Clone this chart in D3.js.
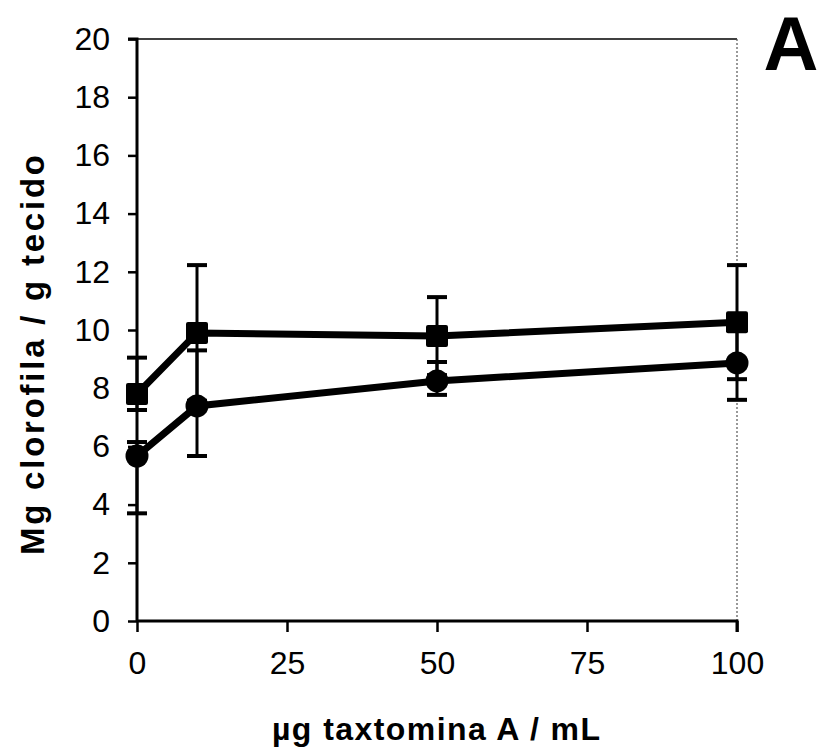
<!DOCTYPE html>
<html>
<head>
<meta charset="utf-8">
<script src="https://cdn.jsdelivr.net/npm/d3@7"></script>
<style>
  body { margin: 0; background: #fff; }
  svg text { font-family: "Liberation Sans", Arial, sans-serif; fill: #000; }
</style>
</head>
<body>
<svg id="chart" width="821" height="751"></svg>
<script>
//
// D A T A
//
var doses      = [0, 10, 50, 100];
var quadrados  = [7.8, 9.9, 9.79, 10.27];
var quadHi     = [9.05, 12.23, 11.13, 12.23];
var quadLo     = [7.25, 7.57, 8.45, 8.31];
var circulos   = [5.67, 7.39, 8.25, 8.87];
var circHi     = [6.15, 9.3, 8.9, 10.14];
var circLo     = [3.7, 5.67, 7.77, 7.6];
var xTicks     = [0, 25, 50, 75, 100];
var yTicks     = [0, 2, 4, 6, 8, 10, 12, 14, 16, 18, 20];

//
// S C A L E S
//
var svg = d3.select('#chart');
var x = d3.scaleLinear().domain([0, 100]).range([137, 737]);
var y = d3.scaleLinear().domain([0, 20]).range([621, 39]);

// plot area border (top and right)
svg.append('line')
  .attr('x1', x(0)).attr('x2', x(100))
  .attr('y1', y(20)).attr('y2', y(20))
  .attr('stroke', '#000').attr('stroke-width', 1.5);
svg.append('line')
  .attr('x1', x(100)).attr('x2', x(100))
  .attr('y1', y(20)).attr('y2', y(0))
  .attr('stroke', '#555').attr('stroke-width', 1.2)
  .attr('stroke-dasharray', '2,2');

//
// A X E S
//
var yAxis = svg.append('g')
  .attr('transform', 'translate(' + x(0) + ',0)')
  .call(d3.axisLeft(y).tickValues(yTicks).tickSize(9).tickPadding(18));
var xAxis = svg.append('g')
  .attr('transform', 'translate(0,' + y(0) + ')')
  .call(d3.axisBottom(x).tickValues(xTicks).tickSize(11).tickPadding(19));

[yAxis, xAxis].forEach(function(ax){
  ax.select('.domain').attr('stroke', '#000').attr('stroke-width', 3);
  ax.selectAll('.tick line').attr('stroke', '#000').attr('stroke-width', 2.5);
  ax.selectAll('.tick text')
    .style('font-family', '"Liberation Sans", Arial, sans-serif')
    .style('font-size', '32px');
});
yAxis.select('.domain').attr('d', 'M0,' + y(0) + 'V' + y(20) + 'h-9');
xAxis.select('.domain').attr('d', 'M' + x(0) + ',0H' + x(100) + 'v11');

// axis titles
svg.append('text')
  .attr('transform', 'translate(44,355) rotate(-90)')
  .attr('text-anchor', 'middle')
  .attr('textLength', 400).attr('lengthAdjust', 'spacing')
  .style('font-size', '33px').style('font-weight', 'bold')
  .text('Mg clorofila / g tecido');

svg.append('text')
  .attr('x', 436).attr('y', 740)
  .attr('text-anchor', 'middle')
  .attr('textLength', 328).attr('lengthAdjust', 'spacing')
  .style('font-size', '32px').style('font-weight', 'bold')
  .text('µg taxtomina A / mL');

svg.append('text')
  .attr('x', 791).attr('y', 70)
  .attr('text-anchor', 'middle')
  .style('font-size', '76px').style('font-weight', 'bold')
  .text('A');

//
// S E R I E S
//
function drawSeries(vals, hi, lo, shape){
  var pts = doses.map(function(d, i){ return {x: d, v: vals[i], hi: hi[i], lo: lo[i]}; });
  var g = svg.append('g');

  g.append('path')
    .datum(pts)
    .attr('fill', 'none')
    .attr('stroke', '#000')
    .attr('stroke-width', 7)
    .attr('d', d3.line().x(function(d){ return x(d.x); }).y(function(d){ return y(d.v); }));

  // error bars
  var eb = g.selectAll('.eb').data(pts).enter().append('g');
  eb.append('line')
    .attr('x1', function(d){ return x(d.x); }).attr('x2', function(d){ return x(d.x); })
    .attr('y1', function(d){ return y(d.hi); }).attr('y2', function(d){ return y(d.lo); })
    .attr('stroke', '#000').attr('stroke-width', 3);
  ['hi', 'lo'].forEach(function(k){
    eb.append('line')
      .attr('x1', function(d){ return x(d.x) - 10; }).attr('x2', function(d){ return x(d.x) + 10; })
      .attr('y1', function(d){ return y(d[k]); }).attr('y2', function(d){ return y(d[k]); })
      .attr('stroke', '#000').attr('stroke-width', 4);
  });

  // markers
  if (shape === 'square') {
    g.selectAll('.m').data(pts).enter().append('rect')
      .attr('x', function(d){ return x(d.x) - 11; })
      .attr('y', function(d){ return y(d.v) - 11; })
      .attr('width', 22).attr('height', 22)
      .attr('rx', 2)
      .attr('fill', '#000');
  } else {
    g.selectAll('.m').data(pts).enter().append('circle')
      .attr('cx', function(d){ return x(d.x); })
      .attr('cy', function(d){ return y(d.v); })
      .attr('r', 11.5)
      .attr('fill', '#000');
  }
}

drawSeries(quadrados, quadHi, quadLo, 'square');
drawSeries(circulos, circHi, circLo, 'circle');
</script>
</body>
</html>
